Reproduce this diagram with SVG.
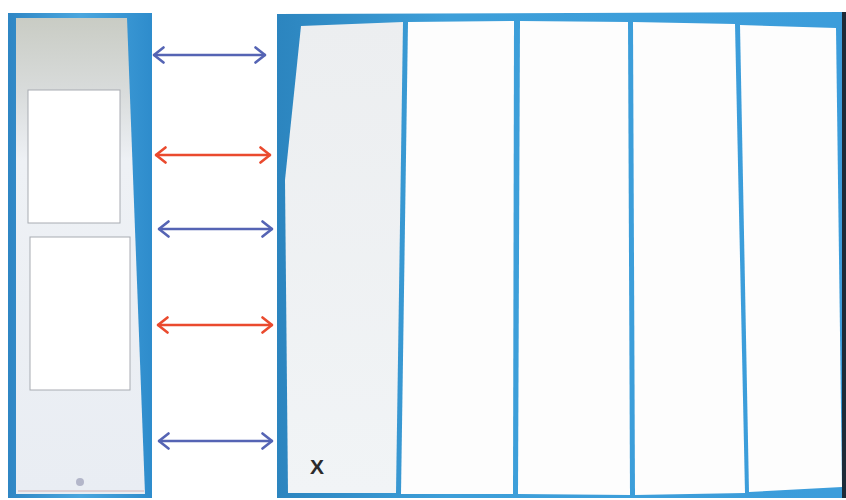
<svg xmlns="http://www.w3.org/2000/svg" width="846" height="500" viewBox="0 0 846 500">
  <defs>
    <style>
      .conn { stroke-width: 2.6; fill: none; stroke-linecap: round; }
      .blue { stroke: #5564b4; }
      .red { stroke: #ea4a2e; }
      .win { fill: #ffffff; stroke: #a8abb2; stroke-width: 1; }
      .col { fill: #fdfdfd; }
      .label { font-family: "Liberation Sans", Arial, sans-serif; font-weight: bold; font-size: 21px; fill: #2b2b2b; }
    </style>
    <marker id="hb" viewBox="0 0 12 18" refX="11" refY="9" markerWidth="12" markerHeight="18" markerUnits="userSpaceOnUse" orient="auto-start-reverse">
      <path d="M1.5,1.5 L11,9 L1.5,16.5" fill="none" stroke="#5564b4" stroke-width="2.6" stroke-linecap="round" stroke-linejoin="round"/>
    </marker>
    <marker id="hr" viewBox="0 0 12 18" refX="11" refY="9" markerWidth="12" markerHeight="18" markerUnits="userSpaceOnUse" orient="auto-start-reverse">
      <path d="M1.5,1.5 L11,9 L1.5,16.5" fill="none" stroke="#ea4a2e" stroke-width="2.6" stroke-linecap="round" stroke-linejoin="round"/>
    </marker>
    <linearGradient id="gLeftBlue" x1="0" y1="0" x2="1" y2="0">
      <stop offset="0" stop-color="#2f86c4"/>
      <stop offset="0.5" stop-color="#4aa6de"/>
      <stop offset="1" stop-color="#2e8ccc"/>
    </linearGradient>
    <linearGradient id="gLeftInner" x1="0" y1="0" x2="0" y2="1">
      <stop offset="0" stop-color="#c9ccc4"/>
      <stop offset="0.16" stop-color="#d9dcdc"/>
      <stop offset="0.3" stop-color="#eef1f5"/>
      <stop offset="1" stop-color="#e9edf3"/>
    </linearGradient>
    <linearGradient id="gRightBlue" x1="0" y1="0" x2="1" y2="0">
      <stop offset="0" stop-color="#2c85bf"/>
      <stop offset="0.3" stop-color="#3d9fd9"/>
      <stop offset="1" stop-color="#3c9ddb"/>
    </linearGradient>
    <linearGradient id="gCol1" x1="0" y1="0" x2="0" y2="1">
      <stop offset="0" stop-color="#eceef0"/>
      <stop offset="1" stop-color="#f1f4f6"/>
    </linearGradient>
  </defs>

  <rect width="846" height="500" fill="#ffffff"/>

  <g id="left-panel">
    <rect x="8" y="13" width="144" height="485" fill="url(#gLeftBlue)"/>
    <polygon points="16,18 127,18 145,494 16,494" fill="url(#gLeftInner)"/>
    <rect class="win" x="28" y="90" width="92" height="133"/>
    <rect class="win" x="30" y="237" width="100" height="153"/>
    <circle cx="80" cy="482" r="4" fill="#b3b6c9"/>
    <line x1="18" y1="491" x2="144" y2="491" stroke="#d9c4c8" stroke-width="1.5"/>
  </g>

  <g id="right-panel">
    <polygon points="277,14 842,12 842,498 277,498" fill="url(#gRightBlue)"/>
    <rect x="842" y="12" width="4" height="486" fill="#1d2b38"/>
    <g id="col1"><polygon points="301,26 403,22 396,493 288,493 285,180" fill="url(#gCol1)"/></g>
    <g id="col2"><polygon class="col" points="408,22 514,21 513,494 401,494"/></g>
    <g id="col3"><polygon class="col" points="520,21 628,22 630,495 518,494"/></g>
    <g id="col4"><polygon class="col" points="633,22 735,24 745,493 635,495"/></g>
    <g id="col5"><polygon class="col" points="740,25 836,28 842,487 749,492"/></g>
    <text class="label" x="310" y="474">X</text>
  </g>

  <g id="connectors">
    <line class="conn blue" x1="154" y1="55" x2="265" y2="55" marker-start="url(#hb)" marker-end="url(#hb)"/>
    <line class="conn red" x1="156" y1="155" x2="270" y2="155" marker-start="url(#hr)" marker-end="url(#hr)"/>
    <line class="conn blue" x1="159" y1="229" x2="272" y2="229" marker-start="url(#hb)" marker-end="url(#hb)"/>
    <line class="conn red" x1="158" y1="325" x2="272" y2="325" marker-start="url(#hr)" marker-end="url(#hr)"/>
    <line class="conn blue" x1="159" y1="441" x2="272" y2="441" marker-start="url(#hb)" marker-end="url(#hb)"/>
  </g>
</svg>
